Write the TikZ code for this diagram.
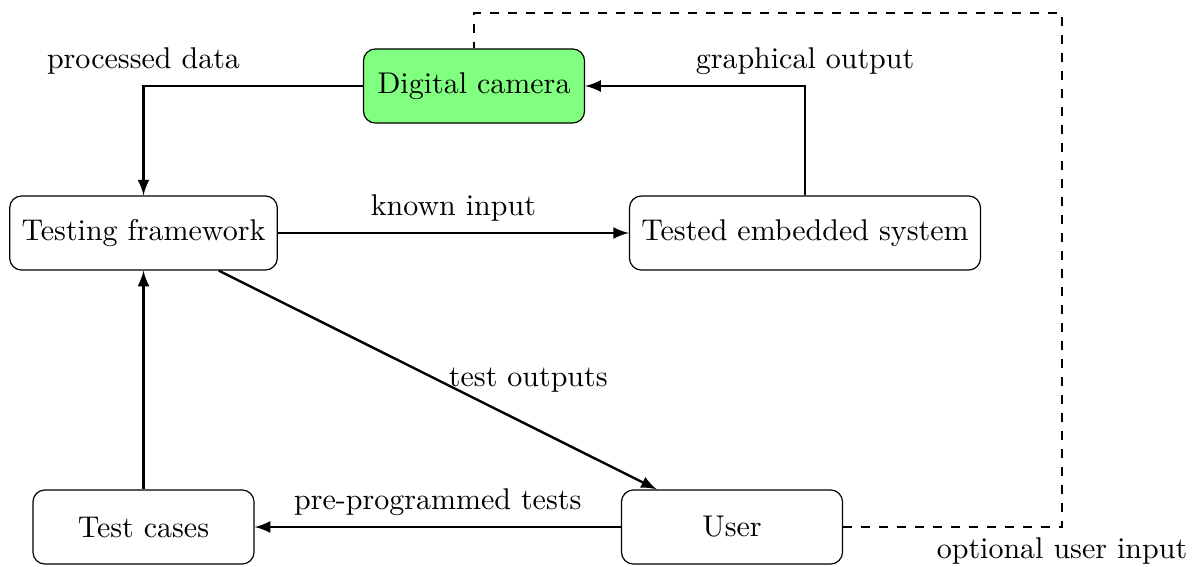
\documentclass[tikz,border=0pt]{standalone}
\usetikzlibrary{arrows}
\begin{document}
\begin{tikzpicture}[x=0.33333pt, y=-0.33333pt,
  box/.style={draw, rounded corners=4pt, minimum width=73.7pt, minimum height=24.7pt, inner xsep=4pt, inner ysep=3.33pt},
  flow/.style={thick, -latex},
  lbl/.style={inner sep=3.33pt}]
  \useasboundingbox (0,0) rectangle (1197,566);

  % blocks
  \node[box, fill=green!50] (cam) at (474,86) {Digital camera};
  \node[box] (tf)   at (143.5,233) {Testing framework};
  \node[box] (tes)  at (805,233) {Tested embedded system};
  \node[box] (tc)   at (143.5,527) {Test cases};
  \node[box] (user) at (732,527) {User};

  % corner points of the routed connectors
  \coordinate (c1) at (143.5,86);
  \coordinate (c2) at (805,86);
  \coordinate (c3) at (1062,527);
  \coordinate (c4) at (1062,13);
  \coordinate (c5) at (474,13);

  % signal flow
  \draw[flow] (cam.west) -- (c1) node[lbl, above] {processed data} -- (tf.north);
  \draw[flow] (tes.north) -- (c2) node[lbl, above] {graphical output} -- (cam.east);
  \draw[flow] (tf.east) -- node[lbl, above] {known input} (tes.west);
  \draw[flow] (tf) -- node[lbl, right] {test outputs} (user);
  \draw[flow] (user.west) -- node[lbl, above] {pre-programmed tests} (tc.east);
  \draw[flow] (tc.north) -- (tf.south);

  % optional feedback path
  \draw[dashed] (user.east) -- (c3) node[lbl, below] {optional user input}
    -- (c4) -- (c5) -- (cam.north);
\end{tikzpicture}
\end{document}
